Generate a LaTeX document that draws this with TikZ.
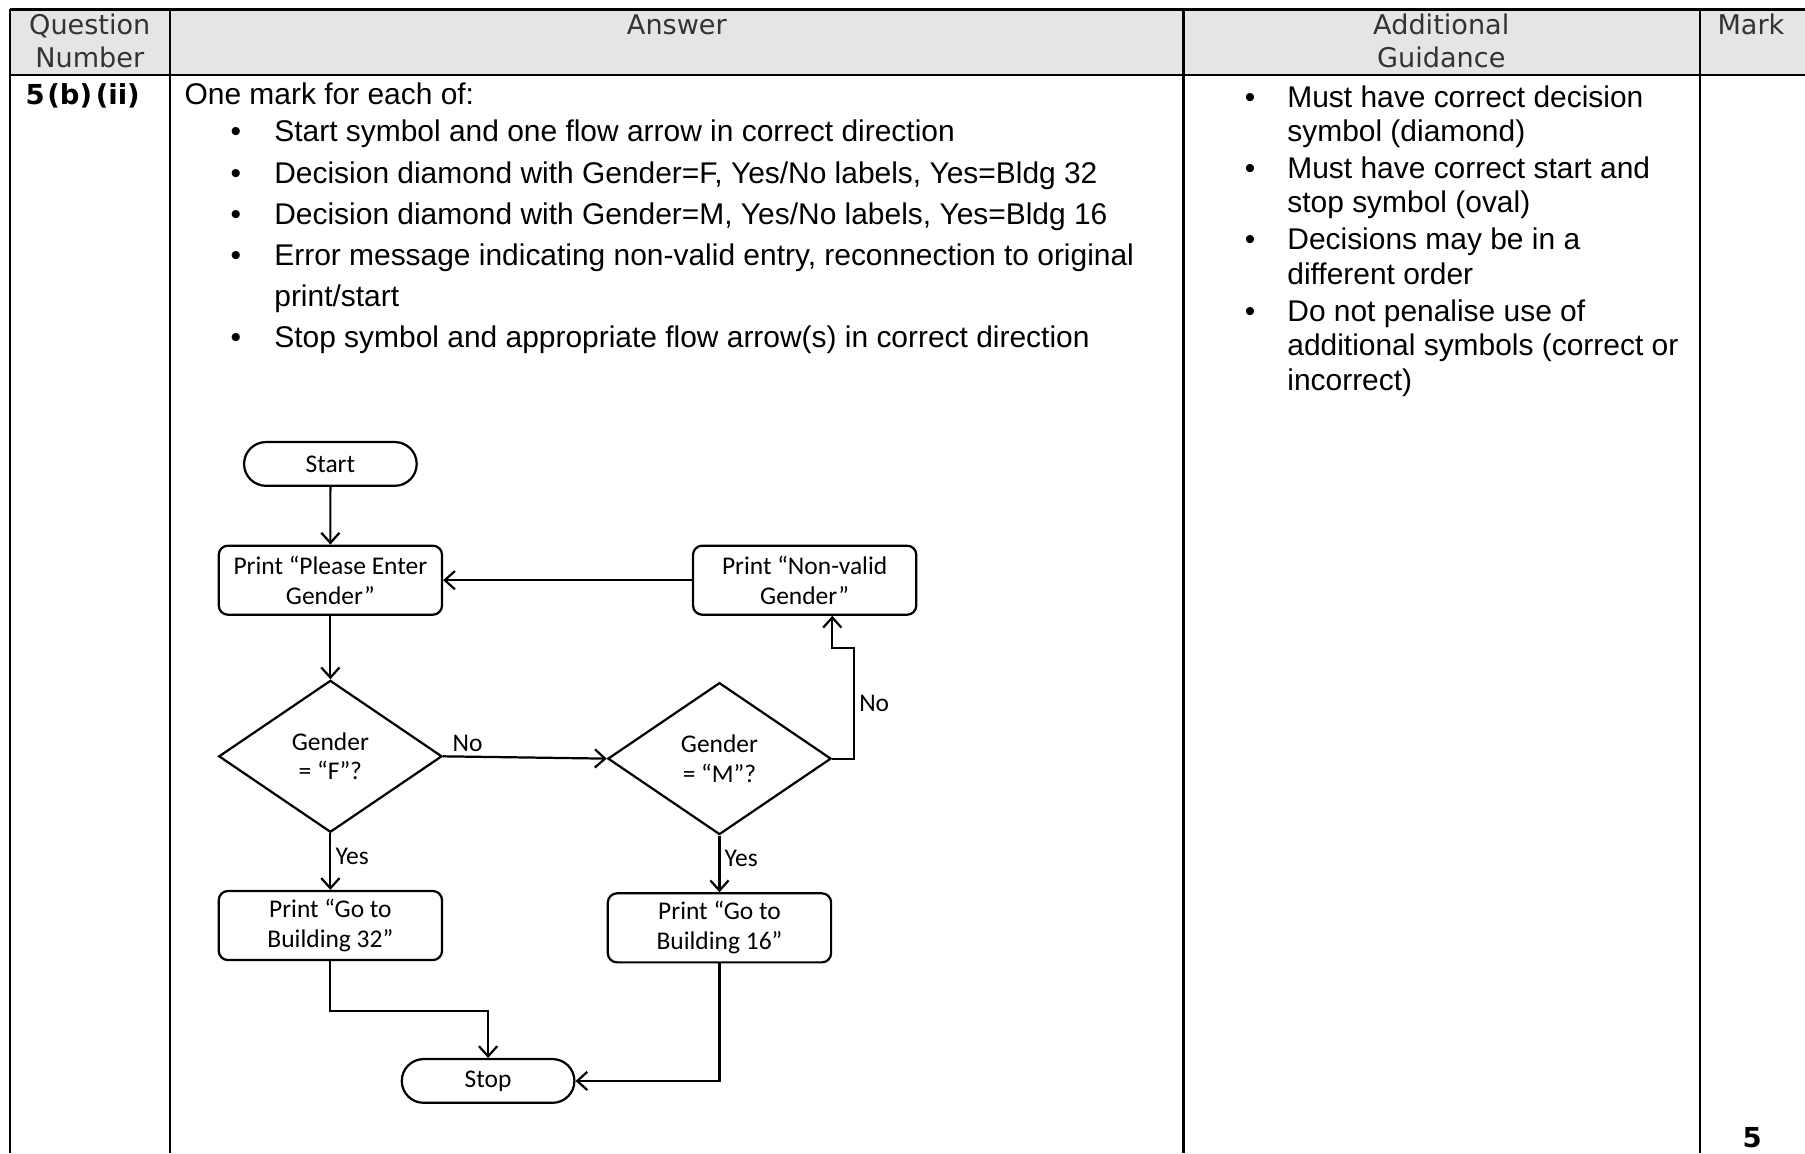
\documentclass[tikz,border=0pt]{standalone}
\usepackage{fontspec}
\setmainfont{Liberation Sans}
\newfontfamily\hdrfont{DejaVu Sans}
\newfontfamily\flowfont{Carlito}
\usetikzlibrary{arrows.meta,shapes.geometric,shapes.misc}

\tikzset{
  tabline/.style={line width=1.1pt},
  hdr/.style={anchor=base, inner sep=0pt, text=black!80, font=\hdrfont\fontsize{13.4}{16}\selectfont},
  txt/.style={anchor=base west, inner sep=0pt, font=\fontsize{14.8}{17}\selectfont},
  bul/.style={anchor=base, inner sep=0pt, font=\fontsize{14.8}{17}\selectfont},
  term/.style={draw, rounded rectangle, line width=1.1pt, minimum width=3cm, minimum height=0.76cm, inner sep=0pt, font=\flowfont\fontsize{12.6}{14.7}\selectfont},
  proc/.style={draw, rectangle, rounded corners=0.16cm, line width=1.1pt, minimum width=3.88cm, minimum height=1.2cm, inner sep=0pt, align=center, font=\flowfont\fontsize{12.6}{14.7}\selectfont},
  decis/.style={draw, diamond, line width=1.1pt, minimum width=3.88cm, minimum height=2.64cm, inner sep=0pt, align=center, font=\flowfont\fontsize{12.6}{14.7}\selectfont},
  lbl/.style={inner sep=2pt, font=\flowfont\fontsize{12.6}{14.7}\selectfont},
  flow/.style={->, line width=1.1pt}
}

\begin{document}
\begin{tikzpicture}[x=0.02cm, y=-0.02cm, >={Straight Barb[length=5pt,width=9pt]}]
\useasboundingbox (0,0) rectangle (1568,1002);
% таблица
\fill[black!10] (9,8) rectangle (1568,65);
\draw[tabline, line width=1.6pt] (9,8) -- (1568,8);
\draw[tabline] (9,65) -- (1568,65);
\draw[tabline] (9,8) -- (9,1002);
\draw[tabline] (148,8) -- (148,1002);
\draw[tabline] (1028,8) -- (1028,1002);
\draw[tabline] (1477,8) -- (1477,1002);
% шапка
\node[hdr] (hq1) at (78,30) {Question};
\node[hdr] (hq2) at (78,59) {Number};
\node[hdr] (ha) at (588,30) {Answer};
\node[hdr] (hg1) at (1252,30) {Additional};
\node[hdr] (hg2) at (1252,59) {Guidance};
\node[hdr] (hm) at (1521,30) {Mark};
% номер и балл
\node[anchor=base west, inner sep=0pt, font=\hdrfont\bfseries\fontsize{13.6}{16}\selectfont] (qn) at (22,91) {5\kern1.2pt(b)\kern1.8pt(ii)};
\node[anchor=base, inner sep=0pt, font=\hdrfont\bfseries\fontsize{13.6}{16}\selectfont] (mk) at (1522,997) {5};
% ответ
\node[txt] (a0) at (160,91) {One mark for each of:};
\node[bul] (ab1) at (205,123) {•};
\node[txt] (a1) at (238,123) {Start symbol and one flow arrow in correct direction};
\node[bul] (ab2) at (205,159) {•};
\node[txt] (a2) at (238,159) {Decision diamond with Gender=F, Yes/No labels, Yes=Bldg 32};
\node[bul] (ab3) at (205,195) {•};
\node[txt] (a3) at (238,195) {Decision diamond with Gender=M, Yes/No labels, Yes=Bldg 16};
\node[bul] (ab4) at (205,231) {•};
\node[txt] (a4) at (238,231) {Error message indicating non-valid entry, reconnection to original};
\node[txt] (a4b) at (238,266) {print/start};
\node[bul] (ab5) at (205,302) {•};
\node[txt] (a5) at (238,302) {Stop symbol and appropriate flow arrow(s) in correct direction};
% указания
\node[bul] (gb1) at (1086,93) {•};
\node[txt] (g1) at (1118,93) {Must have correct decision};
\node[txt] (g1b) at (1118,123) {symbol (diamond)};
\node[bul] (gb2) at (1086,155) {•};
\node[txt] (g2) at (1118,155) {Must have correct start and};
\node[txt] (g2b) at (1118,185) {stop symbol (oval)};
\node[bul] (gb3) at (1086,217) {•};
\node[txt] (g3) at (1118,217) {Decisions may be in a};
\node[txt] (g3b) at (1118,247) {different order};
\node[bul] (gb4) at (1086,279) {•};
\node[txt] (g4) at (1118,279) {Do not penalise use of};
\node[txt] (g4b) at (1118,309) {additional symbols (correct or};
\node[txt] (g4c) at (1118,339) {incorrect)};
% блок-схема
\node[term] (start) at (287,403) {Start};
\node[proc] (enter) at (287,504) {Print “Please Enter\\Gender”};
\node[proc] (nonvalid) at (699,504) {Print “Non-valid\\Gender”};
\node[decis] (isf) at (287,657) {Gender\\= “F”?};
\node[decis] (ism) at (625,659) {Gender\\= “M”?};
\node[proc] (bldg32) at (287,804) {Print “Go to\\Building 32”};
\node[proc] (bldg16) at (625,806) {Print “Go to\\Building 16”};
\node[term] (stop) at (424,939) {Stop};
\coordinate (nvin) at ([xshift=0.48cm]nonvalid.south);
% стрелки
\draw[flow] (start) -- (enter);
\draw[flow] (nonvalid) -- (enter);
\draw[flow] (enter) -- (isf);
\draw[flow] (isf.east) -- node[lbl, pos=0.15, above] (nof) {No} (ism.west);
\draw[flow] (ism.east) -- ++(19,0) -- ++(0,-96) node[lbl, midway, right] (nom) {No} -| (nvin);
\draw[flow] (isf.south) -- node[lbl, pos=0.4, right] (yesf) {Yes} (bldg32.north);
\draw[flow] (ism.south) -- node[lbl, pos=0.4, right] (yesm) {Yes} (bldg16.north);
\draw[flow] (bldg32.south) -- ++(0,43) -| (stop.north);
\draw[flow] (bldg16.south) |- (stop.east);
\end{tikzpicture}
\end{document}
